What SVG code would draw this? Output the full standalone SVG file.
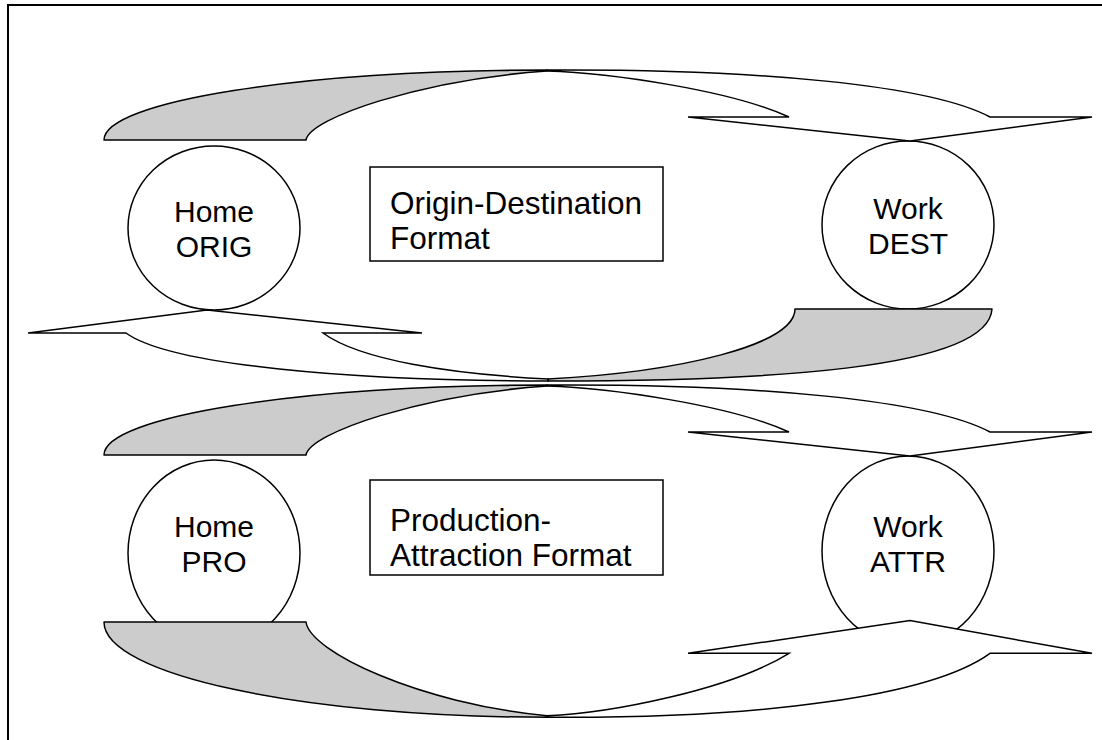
<svg xmlns="http://www.w3.org/2000/svg" width="1102" height="740" viewBox="0 0 1102 740">
<style>
.frame{fill:none;stroke:#000;stroke-width:2}
.node{fill:#fff;stroke:#000;stroke-width:1.5}
.back{fill:#cccccc;stroke:#000;stroke-width:1.5;stroke-linejoin:round}
.front{fill:#fff;stroke:#000;stroke-width:1.5;stroke-linejoin:miter}
.lbl{font-family:"Liberation Sans",Arial,sans-serif;font-size:30px;fill:#000}
.box{font-size:31.5px}
.c{text-anchor:middle}
</style>
<rect class="frame" x="8" y="5" width="1110" height="760"/>
<g id="home-orig">
<ellipse class="node" cx="214" cy="228" rx="86" ry="82"/>
<text class="lbl c" x="214" y="222">Home</text>
<text class="lbl c" x="214" y="257">ORIG</text>
</g>
<g id="work-dest">
<ellipse class="node" cx="908" cy="225" rx="86" ry="84"/>
<text class="lbl c" x="908" y="219">Work</text>
<text class="lbl c" x="908" y="254">DEST</text>
</g>
<g id="od-format">
<rect class="node" x="370" y="167" width="293" height="94"/>
<text class="lbl box" x="390" y="214">Origin-Destination</text>
<text class="lbl box" x="390" y="249">Format</text>
</g>
<g id="home-pro">
<ellipse class="node" cx="214" cy="553" rx="86" ry="93"/>
<text class="lbl c" x="214" y="537">Home</text>
<text class="lbl c" x="214" y="572">PRO</text>
</g>
<g id="work-attr">
<ellipse class="node" cx="908" cy="551" rx="86" ry="95"/>
<text class="lbl c" x="908" y="537">Work</text>
<text class="lbl c" x="908" y="572">ATTR</text>
</g>
<g id="pa-format">
<rect class="node" x="370" y="480" width="293" height="95"/>
<text class="lbl box" x="390" y="531">Production-</text>
<text class="lbl box" x="390" y="566">Attraction Format</text>
</g>
<g id="connectors">
<g id="od-home-to-work">
<path class="back" d="M104,140 C104,101.3 302.3,70 547,70 L547,71 C420,80 310,118 306,140 Z"/>
<path class="front" d="M547,70 C760,69 930,85 990,117 L1092,117 L910,141 L688,117 L789,117 C730,90 610,73 547,71 Z"/>
</g>
<g id="od-work-to-home">
<path class="back" d="M795,309 L992,309 C988,370 760,381 548,381 L548,379 C680,372 795,345 795,309 Z"/>
<path class="front" d="M548,381 C350,381 170,365 126,333 L28,333 L207,310 L422,333 L323,333 C360,360 450,374 548,379 Z"/>
</g>
<g id="pa-home-to-work" transform="translate(0,315)">
<path class="back" d="M104,140 C104,101.3 302.3,70 547,70 L547,71 C420,80 310,118 306,140 Z"/>
<path class="front" d="M547,70 C760,69 930,85 990,117 L1092,117 L910,141 L688,117 L789,117 C730,90 610,73 547,71 Z"/>
</g>
<g id="pa-home-to-work-2">
<path class="back" d="M104,622 C104,674.6 302.3,717.2 547,717.2 L547,715.8 C420,703.6 310,651.9 306,622 Z"/>
<path class="front" d="M547,717.2 C760,718.6 930,696.8 990,653.3 L1092,653.3 L910,620.6 L688,653.3 L789,653.3 C730,690 610,713.1 547,715.8 Z"/>
</g>
</g>
</svg>
